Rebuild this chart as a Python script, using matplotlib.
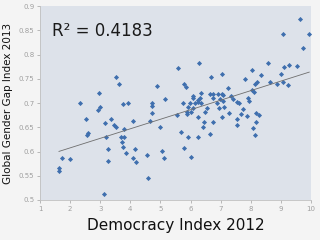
import matplotlib
matplotlib.use("Agg")
import matplotlib.pyplot as plt
import numpy as np

democracy_2012 = [
    3.53, 3.62, 2.96, 2.33, 2.99, 2.93, 3.76, 3.92, 4.89, 4.72, 4.72, 4.72, 2.53, 3.16, 3.36, 3.46,
    3.53, 3.79, 4.09, 2.59, 4.65, 4.99, 2.56, 3.19, 3.69, 3.79, 3.72, 3.76, 3.26, 3.86, 3.26, 4.09,
    4.19, 4.16, 4.55, 1.73, 2.00, 1.63, 1.63, 3.13, 4.59, 5.05, 5.12, 5.15, 5.58, 6.28, 6.68, 7.05,
    5.78, 5.85, 6.08, 6.08, 6.35, 6.25, 6.32, 6.65, 6.75, 6.91, 7.05, 6.98, 6.75, 5.75, 5.92, 5.98,
    6.15, 6.25, 6.35, 6.55, 6.48, 5.88, 6.02, 5.88, 6.08, 6.88, 6.95, 5.55, 6.25, 6.45, 6.42, 6.75,
    7.05, 5.68, 6.65, 5.92, 6.25, 5.78, 6.02, 7.81, 8.04, 8.34, 8.57, 9.01, 9.11, 9.27, 9.54, 9.64,
    9.07, 9.94, 9.74, 8.14, 8.21, 8.64, 8.87, 9.07, 9.24, 7.25, 8.04, 8.11, 7.08, 7.35, 7.41, 7.08,
    7.54, 7.91, 7.94, 7.61, 7.11, 7.74, 7.28, 7.68, 7.88, 8.18, 8.28, 7.54, 8.18, 7.54, 8.08, 8.14,
]
gender_gap_2013 = [
    0.754, 0.739, 0.721, 0.700, 0.692, 0.686, 0.698, 0.700, 0.735, 0.700, 0.694, 0.679, 0.667, 0.659, 0.667, 0.655,
    0.651, 0.646, 0.663, 0.638, 0.663, 0.651, 0.634, 0.630, 0.630, 0.630, 0.620, 0.609, 0.605, 0.597, 0.580, 0.587,
    0.578, 0.605, 0.593, 0.587, 0.585, 0.566, 0.560, 0.512, 0.545, 0.601, 0.587, 0.708, 0.772, 0.782, 0.754, 0.760,
    0.739, 0.733, 0.714, 0.710, 0.721, 0.706, 0.710, 0.719, 0.719, 0.719, 0.719, 0.708, 0.710, 0.700, 0.692, 0.700,
    0.700, 0.702, 0.700, 0.690, 0.681, 0.681, 0.681, 0.677, 0.690, 0.700, 0.690, 0.675, 0.671, 0.661, 0.651, 0.661,
    0.671, 0.640, 0.636, 0.630, 0.630, 0.607, 0.589, 0.749, 0.768, 0.758, 0.782, 0.760, 0.774, 0.778, 0.776, 0.873,
    0.842, 0.842, 0.813, 0.739, 0.743, 0.743, 0.739, 0.743, 0.737, 0.731, 0.727, 0.723, 0.716, 0.714, 0.708, 0.704,
    0.702, 0.710, 0.704, 0.700, 0.692, 0.688, 0.679, 0.677, 0.673, 0.679, 0.675, 0.667, 0.661, 0.655, 0.648, 0.634,
]
r2_label = "R\u00b2 = 0.4183"
x_ticks = [1, 2, 3, 4, 5, 6, 7, 8, 9, 10]
y_ticks = [0.5, 0.55, 0.6, 0.65, 0.7, 0.75, 0.8, 0.85, 0.9]

x = np.array(democracy_2012)
y = np.array(gender_gap_2013)

fig = plt.figure(figsize=(3.2, 2.4), dpi=100, facecolor="#f4f4f4")
ax = fig.add_axes([0.125, 0.1667, 0.847, 0.808])
ax.set_facecolor("#dde2ea")

ax.plot(x, y, linestyle="none", marker="D", markersize=2.6, color="#3f6fae",
        markeredgewidth=0)

coef = np.polyfit(x, y, 1)
xl = np.array([x.min(), x.max()])
ax.plot(xl, np.polyval(coef, xl), color="#6e6e6e", linewidth=0.6)

ax.set_xlim(1, 10)
ax.set_ylim(0.5, 0.9)
ax.set_xticks(x_ticks)
ax.set_yticks(y_ticks)
ax.set_xticklabels([str(t) for t in x_ticks])
ax.set_yticklabels([f"{t:g}" for t in y_ticks])
ax.tick_params(axis="both", labelsize=5, colors="#a0a0a0", length=2, width=0.5, pad=2)

for s in ["top", "right"]:
    ax.spines[s].set_visible(False)
for s in ["left", "bottom"]:
    ax.spines[s].set_color("#c0c0c0")
    ax.spines[s].set_linewidth(0.6)

ax.set_xlabel("Democracy Index 2012", fontsize=11, color="#111111", labelpad=5)
ax.set_ylabel("Global Gender Gap Index 2013", fontsize=7.5, color="#111111", labelpad=4)

ax.text(0.045, 0.87, r2_label, transform=ax.transAxes, fontsize=12, color="#1a1a1a",
        ha="left", va="center")

fig.savefig("out.png", dpi=100, facecolor=fig.get_facecolor())
